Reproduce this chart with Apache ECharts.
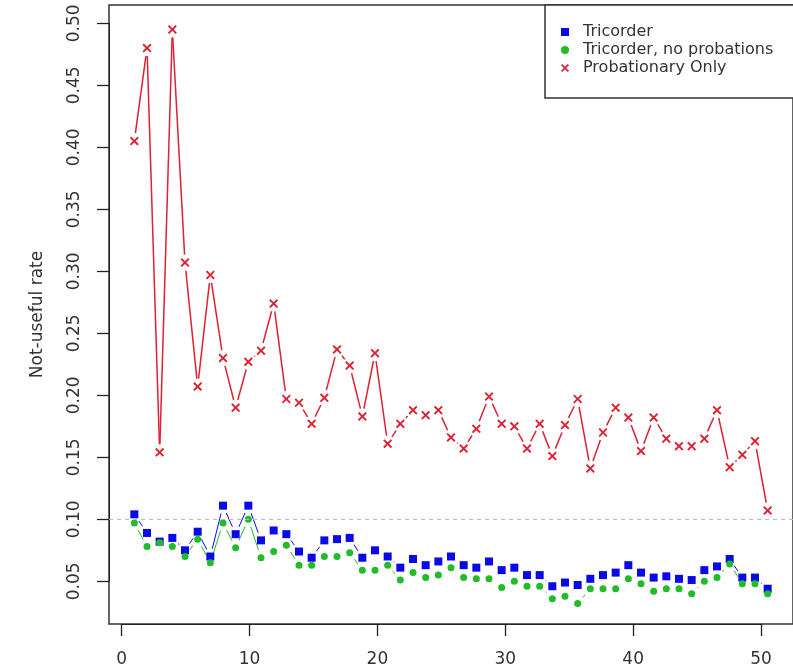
<!DOCTYPE html>
<html>
<head>
<meta charset="utf-8">
<script src="https://cdn.jsdelivr.net/npm/echarts@6/dist/echarts.min.js"></script>
<style>
  html, body { margin: 0; padding: 0; background: #fff; }
  #chart { width: 793px; height: 672px; }
</style>
</head>
<body>
<div id="chart"></div>
<script>
// run number on the x axis
const runs = [1, 2, 3, 4, 5, 6, 7, 8, 9, 10, 11, 12, 13, 14, 15, 16, 17, 18, 19, 20,
  21, 22, 23, 24, 25, 26, 27, 28, 29, 30, 31, 32, 33, 34, 35, 36, 37, 38, 39, 40,
  41, 42, 43, 44, 45, 46, 47, 48, 49, 50, 51];

const tricorder = [0.104, 0.089, 0.082, 0.085, 0.075, 0.090, 0.070, 0.111, 0.088, 0.111,
  0.083, 0.091, 0.088, 0.074, 0.069, 0.083, 0.084, 0.085, 0.069, 0.075,
  0.070, 0.061, 0.068, 0.063, 0.066, 0.070, 0.063, 0.061, 0.066, 0.059,
  0.061, 0.055, 0.055, 0.046, 0.049, 0.047, 0.052, 0.055, 0.057, 0.063,
  0.057, 0.053, 0.054, 0.052, 0.051, 0.059, 0.062, 0.068, 0.053, 0.053, 0.044];

const noProbations = [0.097, 0.078, 0.081, 0.078, 0.070, 0.084, 0.065, 0.097, 0.077, 0.100,
  0.069, 0.074, 0.079, 0.063, 0.063, 0.070, 0.070, 0.073, 0.059, 0.059,
  0.063, 0.051, 0.057, 0.053, 0.055, 0.061, 0.053, 0.052, 0.052, 0.045,
  0.050, 0.046, 0.046, 0.036, 0.038, 0.032, 0.044, 0.044, 0.044, 0.052,
  0.048, 0.042, 0.044, 0.044, 0.040, 0.050, 0.053, 0.064, 0.048, 0.048, 0.040];

const probationaryOnly = [0.405, 0.480, 0.154, 0.495, 0.307, 0.207, 0.297, 0.230, 0.190, 0.227,
  0.236, 0.274, 0.197, 0.194, 0.177, 0.198, 0.237, 0.224, 0.183, 0.234,
  0.161, 0.177, 0.188, 0.184, 0.188, 0.166, 0.157, 0.173, 0.199, 0.177,
  0.175, 0.157, 0.177, 0.151, 0.176, 0.197, 0.141, 0.170, 0.190, 0.182,
  0.155, 0.182, 0.165, 0.159, 0.159, 0.165, 0.188, 0.142, 0.152, 0.163, 0.107];

const seriesNames = ["Tricorder", "Tricorder, no probations", "Probationary Only"];
const refLevel = 0.10;

const xTicks = [0, 50];     // labelled x range
const yTicks = [0.05, 0.50]; // labelled y range

const FONT = "DejaVu Sans";
const BLUE = "#0a0ae6";
const GREEN = "#22bb2a";
const RED = "#dc2233";
const CROSS = "path://M0,1.5 L1.5,0 L5,3.5 L8.5,0 L10,1.5 L6.5,5 L10,8.5 L8.5,10 L5,6.5 L1.5,10 L0,8.5 L3.5,5 Z";

function points(ys) {
  return runs.map((x, i) => [x, ys[i]]);
}

function segments(ys) {
  const out = [];
  for (let i = 0; i < runs.length - 1; i++) {
    out.push([runs[i], ys[i], runs[i + 1], ys[i + 1]]);
  }
  return out;
}

// R type="b": line pieces with a gap round each point
function gappedLine(ys, color, width) {
  const gap = 8;
  return {
    type: "custom",
    xAxisIndex: 0,
    yAxisIndex: 0,
    silent: true,
    encode: { x: [0, 2], y: [1, 3] },
    data: segments(ys),
    renderItem: function (params, api) {
      const a = api.coord([api.value(0), api.value(1)]);
      const b = api.coord([api.value(2), api.value(3)]);
      const dx = b[0] - a[0];
      const dy = b[1] - a[1];
      const len = Math.sqrt(dx * dx + dy * dy);
      if (len <= 2 * gap) return { type: "group", children: [] };
      const ux = dx / len, uy = dy / len;
      return {
        type: "line",
        shape: {
          x1: a[0] + ux * gap, y1: a[1] + uy * gap,
          x2: b[0] - ux * gap, y2: b[1] - uy * gap
        },
        style: { stroke: color, lineWidth: width }
      };
    }
  };
}

const chart = echarts.init(document.getElementById("chart"));

const option = {
  animation: false,
  backgroundColor: "#fff",
  textStyle: { fontFamily: FONT },
  grid: [
    { left: 109, top: 5, width: 690.6, height: 619, show: true,
      borderColor: "#333", borderWidth: 1.5, backgroundColor: "transparent" },
    { left: 121.7, top: 23.3, width: 639.3, height: 558, show: false }
  ],
  xAxis: [
    { type: "value", gridIndex: 0, min: -1, max: 53,
      axisLine: { show: false }, axisTick: { show: false },
      axisLabel: { show: false }, splitLine: { show: false } },
    { type: "value", gridIndex: 1, min: xTicks[0], max: xTicks[1], interval: 10,
      position: "bottom", offset: 42.7,
      axisLine: { show: true, onZero: false, lineStyle: { color: "#222", width: 1 } },
      axisTick: { show: true, length: 12, lineStyle: { color: "#222", width: 1.3 } },
      axisLabel: { margin: 27, color: "#333", fontSize: 17, fontFamily: FONT },
      splitLine: { show: false } }
  ],
  yAxis: [
    { type: "value", gridIndex: 0, min: 0.01556, max: 0.51476,
      name: "Not-useful rate", nameLocation: "middle", nameGap: 63, nameRotate: 90,
      nameTextStyle: { color: "#333", fontSize: 17, fontFamily: FONT },
      axisLine: { show: false, onZero: false }, axisTick: { show: false },
      axisLabel: { show: false }, splitLine: { show: false } },
    { type: "value", gridIndex: 1, min: yTicks[0], max: yTicks[1], interval: 0.05,
      position: "left", offset: 12.7,
      axisLine: { show: true, onZero: false, lineStyle: { color: "#222", width: 1 } },
      axisTick: { show: true, length: 12, lineStyle: { color: "#222", width: 1.3 } },
      axisLabel: { margin: 26, rotate: 90, color: "#333", fontSize: 17, fontFamily: FONT,
        formatter: v => v.toFixed(2) },
      splitLine: { show: false } }
  ],
  legend: {
    left: 545, top: 5, orient: "vertical",
    data: seriesNames,
    itemWidth: 8, itemHeight: 8, itemGap: 0,
    padding: [18, 60, 21, 16],
    borderColor: "#333", borderWidth: 1.5, backgroundColor: "#fff",
    textStyle: { fontFamily: FONT, fontSize: 16, color: "#333", lineHeight: 18, padding: [0, 0, 0, 9] }
  },
  series: [
    gappedLine(tricorder, BLUE, 1),
    gappedLine(noProbations, GREEN, 1),
    gappedLine(probationaryOnly, RED, 1.5),
    {
      name: seriesNames[0], type: "scatter", xAxisIndex: 0, yAxisIndex: 0,
      symbol: "rect", symbolSize: 8, data: points(tricorder),
      itemStyle: { color: BLUE, opacity: 1 },
      markLine: {
        silent: true, symbol: "none", label: { show: false },
        lineStyle: { color: "#bbbbbb", type: [4, 4], width: 1 },
        data: [{ yAxis: refLevel }]
      }
    },
    {
      name: seriesNames[1], type: "scatter", xAxisIndex: 0, yAxisIndex: 0,
      symbol: "circle", symbolSize: 7, data: points(noProbations),
      itemStyle: { color: GREEN, opacity: 1 }
    },
    {
      name: seriesNames[2], type: "scatter", xAxisIndex: 0, yAxisIndex: 0,
      symbol: CROSS, symbolSize: 9, data: points(probationaryOnly),
      itemStyle: { color: RED, opacity: 1 }
    }
  ]
};

chart.setOption(option);
</script>
</body>
</html>
